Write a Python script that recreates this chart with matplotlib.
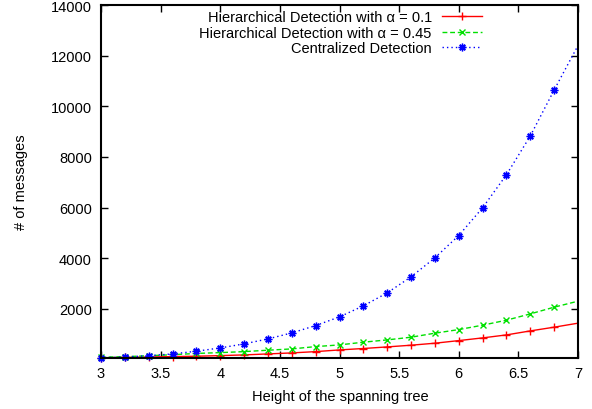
import matplotlib
matplotlib.use("Agg")
import matplotlib.pyplot as plt

plt.rcParams['font.family'] = ['Liberation Sans', 'DejaVu Sans']

heights = [3.0, 3.2, 3.4, 3.6, 3.8, 4.0, 4.2, 4.4, 4.6, 4.8, 5.0,
           5.2, 5.4, 5.6, 5.8, 6.0, 6.2, 6.4, 6.6, 6.8, 7.0]
hier_01 = [70, 85, 100, 115, 130, 154, 182, 221, 261, 312, 379,
           435, 498, 565, 644, 747, 854, 972, 1130, 1277, 1435]
hier_045 = [90, 110, 150, 190, 240, 273, 312, 368, 419, 510, 577,
            684, 775, 881, 1040, 1182, 1356, 1553, 1802, 2067, 2304]
central = [70, 100, 150, 221, 328, 458, 617, 814, 1051, 1340, 1684,
           2119, 2632, 3265, 4016, 4897, 5992, 7296, 8828, 10644, 12400]
labels = ["Hierarchical Detection with \u03b1 = 0.1",
          "Hierarchical Detection with \u03b1 = 0.45",
          "Centralized Detection"]
xticks = [3, 3.5, 4, 4.5, 5, 5.5, 6, 6.5, 7]
xtick_labels = ["3", "3.5", "4", "4.5", "5", "5.5", "6", "6.5", "7"]
yticks = [2000, 4000, 6000, 8000, 10000, 12000, 14000]

fig = plt.figure(figsize=(5.92, 4.10), dpi=100)
ax = fig.add_axes([101/592, 1 - 359/410, 477/592, 353/410])

mk_every = slice(0, len(heights) - 1)
ax.plot(heights, hier_01, color='#ff0000', linestyle='-', linewidth=1.0,
        marker='+', markersize=6, markeredgewidth=1.0, markevery=mk_every,
        clip_on=False, label=labels[0])
ax.plot(heights, hier_045, color='#00e000', linestyle=(0, (3.5, 2)), linewidth=1.0,
        marker='x', markersize=5, markeredgewidth=1.0, markevery=mk_every,
        clip_on=False, label=labels[1])
ax.plot(heights, central, color='#0000ff', linestyle=(0, (1, 2.2)), linewidth=1.0,
        marker=(8, 2, 0), markersize=5.5, markeredgewidth=1.0, markevery=mk_every,
        clip_on=False, label=labels[2])

ax.set_xlim(3, 7)
ax.set_ylim(60, 14000)
ax.set_xticks(xticks)
ax.set_xticklabels(xtick_labels)
ax.set_yticks(yticks)
ax.set_yticklabels([str(v) for v in yticks])

ax.tick_params(axis='both', direction='in', length=5, width=1.0, labelsize=10.5,
               top=True, right=True)
ax.tick_params(axis='x', pad=6)
ax.tick_params(axis='y', pad=6.5)
for s in ax.spines.values():
    s.set_linewidth(1.5)

ax.set_xlabel("Height of the spanning tree", fontsize=10.5)
ax.xaxis.set_label_coords(0.501, -0.088)
ax.set_ylabel("# of messages", fontsize=10.5)
ax.yaxis.set_label_coords(-0.152, 0.50)

leg = ax.legend(loc='upper right', bbox_to_anchor=(0.799, 0.985), frameon=False,
                markerfirst=False, fontsize=10.5, handlelength=2.75,
                handletextpad=0.7, labelspacing=0.1, borderpad=0, borderaxespad=0,
                numpoints=1)

fig.savefig("out.png", dpi=100)
